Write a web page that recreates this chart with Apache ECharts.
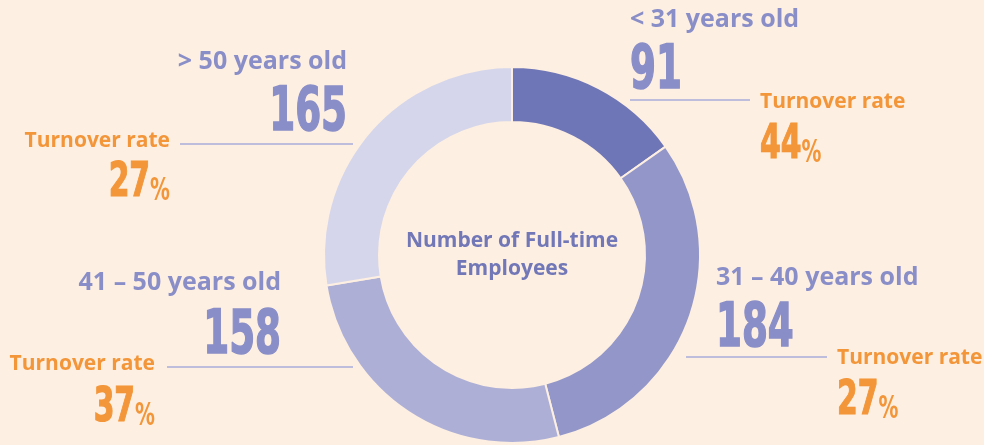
<!DOCTYPE html>
<html lang="en">
<head>
    <meta charset="UTF-8">
    <title>Full-time employees by age</title>
    <script src="https://cdn.jsdelivr.net/npm/echarts@6/dist/echarts.min.js"></script>
    <style>
        html, body { margin: 0; padding: 0; background: #fdefe1; }
    </style>
</head>
<body>
    <div id="main" style="width: 984px;height: 445px;"></div>

    <script type="text/javascript">
        // data
        var ageGroups = ['< 31 years old', '31 – 40 years old', '41 – 50 years old', '> 50 years old'];
        var employees = [91, 184, 158, 165];
        var turnover = [44, 27, 37, 27];
        var centerTitle = ['Number of Full-time', 'Employees'];

        var sliceColors = ['#6f76b7', '#9296c9', '#adafd7', '#d5d6eb'];
        var bg = '#fdefe1';
        var purple = '#8a8ec8';
        var orange = '#f39539';
        var numFont = "'DejaVu Sans Condensed', sans-serif";
        var txtFont = "'Open Sans', sans-serif";
        var squeeze = 0.69; // narrow the big numbers like the condensed print face

        // where each label block sits (side = which way the text runs from x)
        var layout = [
            { side: 'left',  x: 630, catY: 20,  numY: 72,  line: [630, 750, 100], trX: 760, trY: 102, pctY: 146 },
            { side: 'left',  x: 716, catY: 278, numY: 330, line: [686, 827, 357], trX: 837, trY: 358, pctY: 402 },
            { side: 'right', x: 281, catY: 283, numY: 337, line: [167, 353, 367], trX: 155, trY: 364, pctY: 409 },
            { side: 'right', x: 347, catY: 62,  numY: 114, line: [180, 353, 144], trX: 170, trY: 141, pctY: 184 }
        ];

        var graphics = [];
        for (var i = 0; i < ageGroups.length; i++) {
            var L = layout[i];
            graphics.push({
                type: 'text', x: L.x, y: L.catY,
                style: { text: ageGroups[i], fill: purple, font: 'bold 25px ' + txtFont,
                         align: L.side, verticalAlign: 'middle' }
            });
            graphics.push({
                type: 'text', x: L.x, y: L.numY, scaleX: squeeze,
                style: { text: String(employees[i]), fill: purple, stroke: purple, lineWidth: 1.5,
                         font: 'bold 60px ' + numFont, align: L.side, verticalAlign: 'middle' }
            });
            graphics.push({
                type: 'line',
                shape: { x1: L.line[0], y1: L.line[2], x2: L.line[1], y2: L.line[2] },
                style: { stroke: '#a9acda', lineWidth: 1.5 }
            });
            graphics.push({
                type: 'text', x: L.trX, y: L.trY,
                style: { text: 'Turnover rate', fill: orange, font: 'bold 21px ' + txtFont,
                         align: L.side, verticalAlign: 'middle' }
            });
            graphics.push({
                type: 'text', x: L.trX, y: L.pctY, scaleX: squeeze,
                style: {
                    text: '{a|' + turnover[i] + '}{b|%}',
                    align: L.side, verticalAlign: 'middle',
                    rich: {
                        a: { fill: orange, stroke: orange, lineWidth: 1.2, font: 'bold 48px ' + numFont, verticalAlign: 'bottom' },
                        b: { fill: orange, font: 'bold 32px ' + numFont, verticalAlign: 'bottom' }
                    }
                }
            });
        }
        graphics.push({
            type: 'text', x: 512, y: 255,
            style: { text: centerTitle.join('\n'), fill: '#7177b7', font: 'bold 21px ' + txtFont,
                     align: 'center', verticalAlign: 'middle', lineHeight: 28 }
        });

        var myChart = echarts.init(document.getElementById('main'));
        var option = {
            backgroundColor: bg,
            animation: false,
            series: [{
                type: 'pie',
                center: [512, 255],
                radius: [133, 188],
                startAngle: 90,
                clockwise: true,
                silent: true,
                label: { show: false },
                labelLine: { show: false },
                itemStyle: { borderColor: bg, borderWidth: 2 },
                data: ageGroups.map(function (name, k) {
                    return { name: name, value: employees[k], itemStyle: { color: sliceColors[k] } };
                })
            }],
            graphic: graphics
        };
        myChart.setOption(option);
    </script>
</body>
</html>
